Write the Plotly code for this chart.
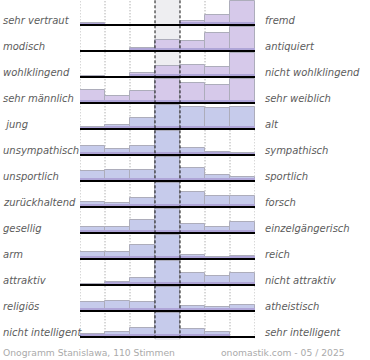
import plotly.graph_objects as go

left_labels = ["sehr vertraut", "modisch", "wohlklingend", "sehr männlich", " jung",
               "unsympathisch", "unsportlich", "zurückhaltend", "gesellig", "arm",
               "attraktiv", "religiös", "nicht intelligent"]
right_labels = ["fremd", "antiquiert", "nicht wohlklingend", "sehr weiblich", "alt",
                "sympathisch", "sportlich", "forsch", "einzelgängerisch", "reich",
                "nicht attraktiv", "atheistisch", "sehr intelligent"]

# relative bar heights (percent of the row maximum), 7 scale steps per row
r01 = [8, 0, 0, 0, 15, 40, 100]
r02 = [0, 0, 11, 44, 39, 75, 100]
r03 = [4, 0, 17, 44, 51, 39, 100]
r04 = [53, 29, 48, 100, 80, 75, 100]
r05 = [8, 15, 47, 100, 88, 84, 92]
r06 = [37, 24, 37, 100, 29, 12, 8]
r07 = [40, 47, 44, 100, 55, 25, 15]
r08 = [21, 17, 35, 100, 61, 45, 45]
r09 = [23, 23, 55, 100, 35, 25, 43]
r10 = [29, 29, 57, 100, 17, 9, 12]
r11 = [4, 12, 28, 100, 48, 36, 48]
r12 = [37, 41, 37, 100, 21, 17, 25]
r13 = [12, 19, 35, 100, 33, 21, 0]
rows = [r01, r02, r03, r04, r05, r06, r07, r08, r09, r10, r11, r12, r13]

footer_left = "Onogramm Stanislawa, 110 Stimmen"
footer_right = "onomastik.com - 05 / 2025"

W, H = 370, 360
L, R, T, B = 80, 115, 0, 20
ROW_PX = 26
FULL = 0.94          # full bar height in row units
plot_h = H - T - B
plot_w = W - L - R
y_top = 25 / ROW_PX
y_bot = y_top - plot_h / ROW_PX

steps = list(range(7))
fig = go.Figure()

for i, vals in enumerate(rows):
    base = -i
    col = "#d6c9ea" if i < 4 else "#c6cbeb"
    hs = [v / 100 * FULL for v in vals]
    fig.add_trace(go.Bar(x=steps, y=hs, base=[base] * 7, width=1,
                         marker=dict(color=col, line=dict(color="#adadbb", width=1)),
                         showlegend=False, hoverinfo="skip"))
    band = [min(h, 0.12) for h in hs]
    fig.add_trace(go.Bar(x=steps, y=band, base=[base] * 7, width=1,
                         marker=dict(color="#afa5d7", line=dict(width=0)),
                         showlegend=False, hoverinfo="skip"))

shapes = []
# centre column background
shapes.append(dict(type="rect", xref="x", yref="paper", x0=2.5, x1=3.5, y0=0, y1=1,
                   fillcolor="#eeeef1", line=dict(width=0), layer="below"))
for k in [0, 1, 2, 5, 6, 7]:
    shapes.append(dict(type="line", xref="x", yref="paper", x0=k - 0.5, x1=k - 0.5,
                       y0=0.005, y1=1, line=dict(color="#8f8f8f", width=1, dash="1px,2px"),
                       layer="below"))
for k in [3, 4]:
    shapes.append(dict(type="line", xref="x", yref="paper", x0=k - 0.5, x1=k - 0.5,
                       y0=0.005, y1=1, line=dict(color="#111111", width=1, dash="3px,2px"),
                       layer="above"))
for i in range(len(rows)):
    shapes.append(dict(type="line", xref="x", yref="y", x0=-0.5, x1=6.55, y0=-i, y1=-i,
                       line=dict(color="#000000", width=2), layer="above"))

ann = []
lab_font = dict(family="DejaVu Sans", size=10, color="#5c5c5c", style="italic")
for i in range(len(rows)):
    ann.append(dict(xref="paper", yref="y", x=(1 - L) / plot_w, y=-i + 5 / ROW_PX,
                    text=left_labels[i], showarrow=False, xanchor="left", yanchor="middle",
                    font=lab_font))
    ann.append(dict(xref="paper", yref="y", x=(263 - L) / plot_w, y=-i + 5 / ROW_PX,
                    text=right_labels[i], showarrow=False, xanchor="left", yanchor="middle",
                    font=lab_font))
foot_font = dict(family="DejaVu Sans", size=9.2, color="#aaaaaa")
ann.append(dict(xref="paper", yref="paper", x=(1 - L) / plot_w, y=-12 / plot_h,
                text=footer_left, showarrow=False, xanchor="left", yanchor="middle",
                font=foot_font))
ann.append(dict(xref="paper", yref="paper", x=(347 - L) / plot_w, y=-12 / plot_h,
                text=footer_right, showarrow=False, xanchor="right", yanchor="middle",
                font=foot_font))

fig.update_layout(
    width=W, height=H, margin=dict(l=L, r=R, t=T, b=B),
    paper_bgcolor="white", plot_bgcolor="rgba(0,0,0,0)",
    barmode="overlay", bargap=0,
    xaxis=dict(range=[-0.5, 6.5], visible=False, fixedrange=True),
    yaxis=dict(range=[y_bot, y_top], visible=False, fixedrange=True),
    shapes=shapes, annotations=ann,
)
fig.write_html("out.html", config={"displayModeBar": False},
               post_script="document.body.style.margin='0';document.body.style.padding='0';")
